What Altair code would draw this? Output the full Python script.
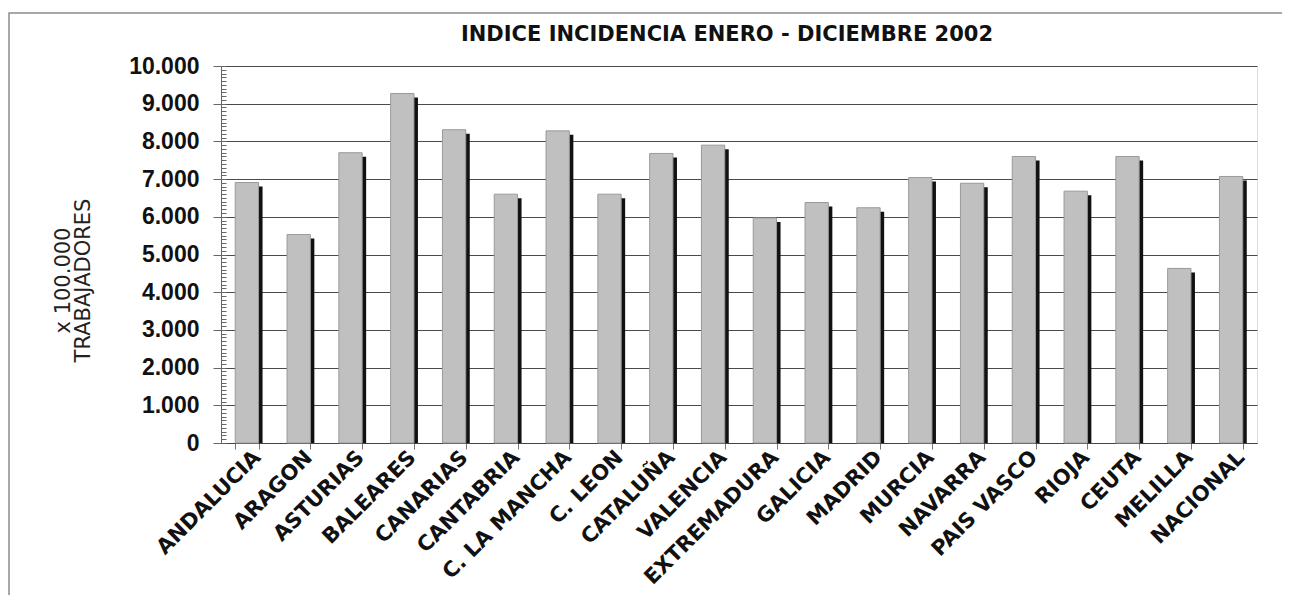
import altair as alt
import pandas as pd

regions = ["ANDALUCIA", "ARAGON", "ASTURIAS", "BALEARES", "CANARIAS", "CANTABRIA",
           "C. LA MANCHA", "C. LEON", "CATALUÑA", "VALENCIA", "EXTREMADURA", "GALICIA",
           "MADRID", "MURCIA", "NAVARRA", "PAIS VASCO", "RIOJA", "CEUTA", "MELILLA", "NACIONAL"]
indices = [6910, 5530, 7700, 9270, 8310, 6600, 8280, 6600, 7680, 7900,
           5970, 6380, 6240, 7040, 6890, 7600, 6680, 7600, 4630, 7070]
y_ticks = list(range(0, 10001, 1000))
minor_ticks = list(range(0, 10001, 100))
title_text = "INDICE INCIDENCIA ENERO - DICIEMBRE 2002"

W, H = 1036, 377

df = pd.DataFrame({"region": regions, "indice": indices})
yscale = alt.Scale(domain=[0, 10000], nice=False)

x_enc = alt.X(
    "region:N", sort=regions,
    scale=alt.Scale(paddingInner=0.55, paddingOuter=0.275),
    axis=alt.Axis(
        title=None, labelAngle=-45, labelAlign="right", labelBaseline="middle",
        labelFont="DejaVu Sans", labelFontWeight="bold", labelFontSize=21,
        labelColor="#111", labelPadding=5, labelOffset=10, labelLimit=400,
        tickBand="extent", tickSize=6, tickColor="#777",
        domainColor="#444", grid=False, labelOverlap=False,
    ),
)

frame = alt.Chart(pd.DataFrame({"a": [0]})).mark_rect(
    fill="transparent", stroke="#8c8c8c", strokeWidth=1.5, clip=False
).encode(x=alt.value(-212), x2=alt.value(W + 200), y=alt.value(-53), y2=alt.value(H + 300))

title = alt.Chart(pd.DataFrame({"t": [title_text]})).mark_text(
    font="DejaVu Sans", fontSize=21, fontWeight="bold", color="#111",
    align="center", baseline="alphabetic", clip=False
).encode(text="t:N", x=alt.value(W / 2 - 12), y=alt.value(-25))

highlight = alt.Chart(df).mark_bar(opacity=0).encode(
    x=x_enc,
    y=alt.Y("indice:Q", scale=yscale, axis=alt.Axis(
        orient="right", values=y_ticks, grid=True, gridColor="#ffffff", gridWidth=1,
        tickOffset=1.5, ticks=False, labels=False, domain=False, title=None)),
)

shadow = alt.Chart(df).mark_bar(color="#111111", xOffset=4, yOffset=4, clip=True).encode(
    x=x_enc,
    y=alt.Y("indice:Q", scale=yscale, axis=alt.Axis(
        orient="right", offset=-W, values=minor_ticks, tickSize=5, tickColor="#666",
        labels=False, domain=False, grid=False, title=None)),
)

bars = alt.Chart(df).mark_bar(color="#c0c0c0", stroke="#9a9a9a", strokeWidth=1).encode(
    x=x_enc,
    y=alt.Y("indice:Q", scale=yscale, axis=alt.Axis(
        orient="left", values=y_ticks,
        labelExpr="replace(format(datum.value, ','), ',', '.')",
        labelFont="Liberation Sans", labelFontWeight="bold",
        labelFontSize=23, labelColor="#111", labelPadding=14,
        tickSize=8, tickColor="#666", domainColor="#666",
        grid=True, gridColor="#4a4a4a", gridWidth=1,
        title=["x 100.000", "TRABAJADORES"], titleFont="DejaVu Sans", titleFontWeight="normal",
        titleFontSize=21, titleColor="#222", titleLineHeight=20,
        titleX=-158, titleY=214, titleAlign="center", titleBaseline="middle", titleAngle=-90,
    )),
)

chart = alt.layer(frame, title, highlight, shadow, bars).resolve_axis(y="independent").properties(
    width=W, height=H,
    autosize=alt.AutoSizeParams(type="none"),
    padding={"left": 213, "top": 58, "right": 25, "bottom": 152},
).configure_view(fill="#e0e0e0", stroke="#8a8a8a").configure(background="white")

chart.save("out.html", embed_options={"renderer": "svg", "actions": False})
